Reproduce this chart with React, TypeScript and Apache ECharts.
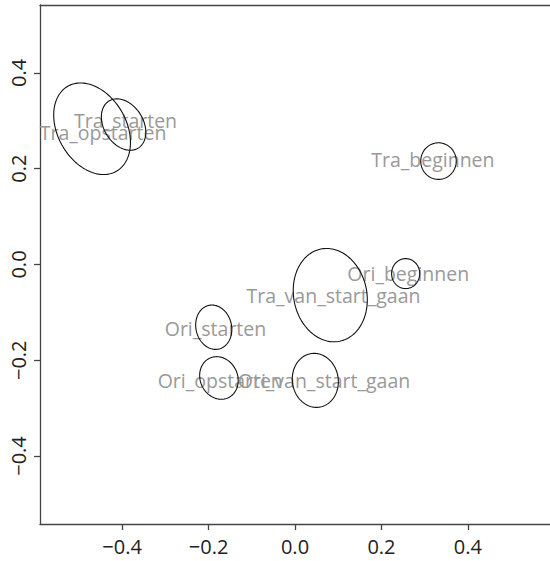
import React, { useEffect, useRef } from "react";
import * as echarts from "echarts";

// Confidence ellipses: centre, half-width, half-height (data units) and correlation
const names = [
  "Tra_opstarten",
  "Tra_starten",
  "Tra_beginnen",
  "Ori_beginnen",
  "Tra_van_start_gaan",
  "Ori_starten",
  "Ori_opstarten",
  "Ori_van_start_gaan",
];
const centerX = [-0.4695, -0.3966, 0.332, 0.256, 0.0816, -0.188, -0.176, 0.047];
const centerY = [0.2835, 0.2923, 0.216, -0.019, -0.064, -0.131, -0.237, -0.242];
const radiusX = [0.0888, 0.0514, 0.0411, 0.0325, 0.0857, 0.0418, 0.0446, 0.0533];
const radiusY = [0.0956, 0.0537, 0.0382, 0.0313, 0.0975, 0.0463, 0.0445, 0.0564];
const correlation = [-0.3, -0.3, 0, 0, -0.1, -0.1, -0.12, -0.05];
// Label positions
const labelX = [-0.444, -0.392, 0.319, 0.262, 0.089, -0.184, -0.173, 0.067];
const labelY = [0.276, 0.301, 0.22, -0.018, -0.064, -0.134, -0.2415, -0.2415];
// Axis ticks
const xTicks = [-0.4, -0.2, 0, 0.2, 0.4];
const yTicks = [-0.4, -0.2, 0, 0.2, 0.4];

const fmt = (v: number) => (v < -1e-9 ? "\u2212" : "") + Math.abs(v).toFixed(1);

export default function App() {
  const ref = useRef<HTMLDivElement>(null);
  useEffect(() => {
    if (!ref.current) return;
    const chart = echarts.init(ref.current, null, { renderer: "svg" });
    const ellipseData = names.map((_, i) => [centerX[i], centerY[i], radiusX[i], radiusY[i], correlation[i]]);
    const labelData = names.map((_, i) => [labelX[i], labelY[i]]);
    const lineStyle = { color: "#444", width: 1.3 };
    const labelStyle = {
      formatter: fmt,
      fontSize: 20,
      fontFamily: "Open Sans",
      color: "#222",
      margin: 12,
    };
    chart.setOption({
      animation: false,
      grid: {
        left: 40,
        top: 5,
        width: 516,
        height: 519,
        show: false,
        containLabel: false,
      },
      xAxis: [
        {
          type: "value",
          min: -0.59,
          max: 0.59,
          splitLine: { show: false },
          axisLine: { show: true, onZero: false, lineStyle },
          axisTick: { show: true, customValues: xTicks, length: 6, lineStyle },
          axisLabel: { ...labelStyle, customValues: xTicks },
        },
        {
          type: "value",
          position: "top",
          min: -0.59,
          max: 0.59,
          splitLine: { show: false },
          axisLine: { show: true, onZero: false, lineStyle },
          axisTick: { show: false },
          axisLabel: { show: false },
        },
      ],
      yAxis: {
        type: "value",
        min: -0.542,
        max: 0.542,
        splitLine: { show: false },
        axisLine: { show: true, onZero: false, lineStyle },
        axisTick: { show: true, customValues: yTicks, length: 6, lineStyle },
        axisLabel: { ...labelStyle, customValues: yTicks, rotate: 90 },
      },
      series: [
        {
          type: "custom",
          data: labelData,
          encode: { x: 0, y: 1 },
          silent: true,
          renderItem: (params: any, api: any) => {
            const p = api.coord([api.value(0), api.value(1)]);
            return {
              type: "text",
              x: p[0],
              y: p[1],
              style: {
                text: names[params.dataIndex],
                fill: "#999",
                fontSize: 19.5,
                fontFamily: "Open Sans",
                align: "center",
                verticalAlign: "middle",
              },
            };
          },
        },
        {
          type: "custom",
          data: ellipseData,
          encode: { x: 0, y: 1 },
          silent: true,
          renderItem: (params: any, api: any) => {
            const cx = api.value(0);
            const cy = api.value(1);
            const rx = api.value(2);
            const ry = api.value(3);
            const rho = api.value(4);
            const s = Math.sqrt(1 - rho * rho);
            const pts: number[][] = [];
            const n = 144;
            for (let k = 0; k < n; k++) {
              const t = (2 * Math.PI * k) / n;
              pts.push(api.coord([cx + rx * Math.cos(t), cy + ry * (rho * Math.cos(t) + s * Math.sin(t))]));
            }
            return {
              type: "polygon",
              shape: { points: pts },
              style: { fill: "none", stroke: "#111", lineWidth: 1.1 },
            };
          },
        },
      ],
    });
    return () => chart.dispose();
  }, []);
  return (
    <div
      ref={ref}
      style={{ position: "fixed", left: 0, top: 0, width: 550, height: 561, background: "#fff" }}
    />
  );
}
